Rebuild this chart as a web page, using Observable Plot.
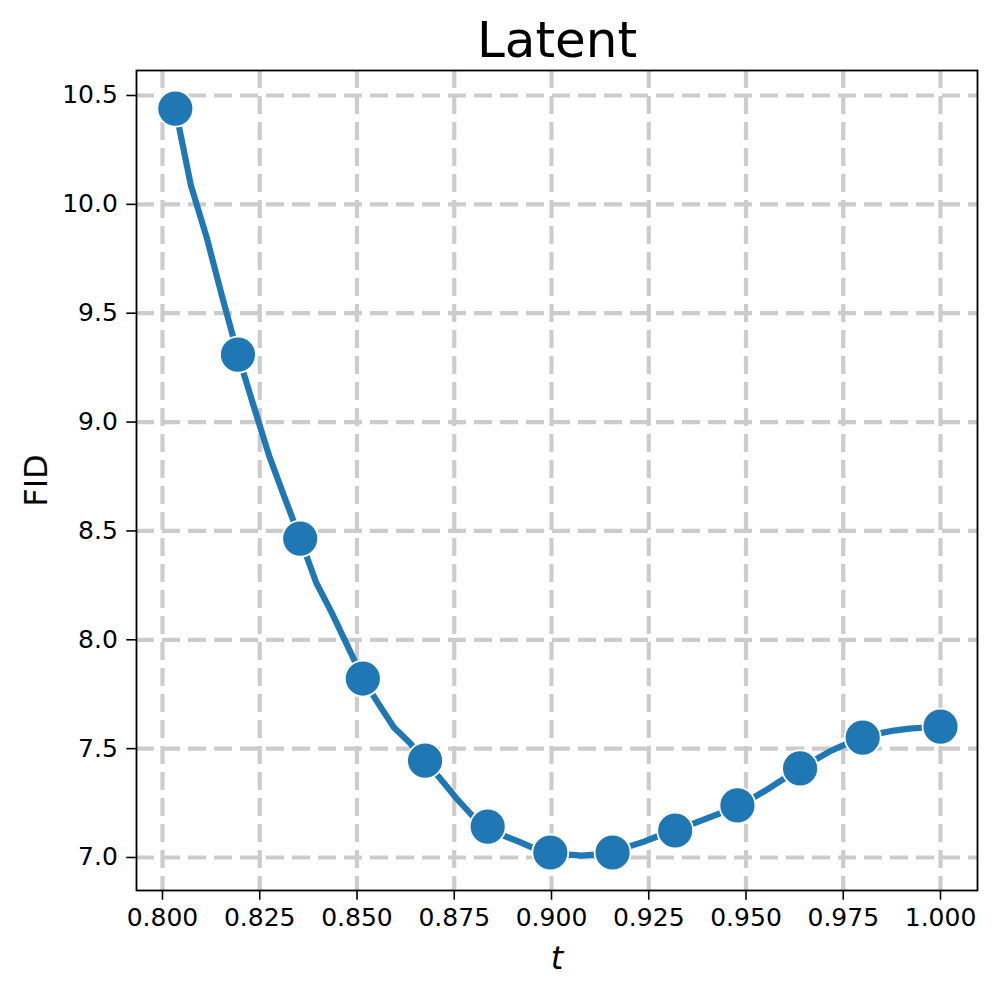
<!DOCTYPE html>
<html>
<head>
<meta charset="utf-8">
<script src="https://cdn.jsdelivr.net/npm/d3@7"></script>
<script src="https://cdn.jsdelivr.net/npm/@observablehq/plot@0.6"></script>
<style>
  html, body { margin: 0; padding: 0; background: #fff; }
  #chart { width: 997px; height: 996px; }
</style>
</head>
<body>
<div id="chart"></div>
<script>
// ---- data ----
const titleText = "Latent";
const xLabelText = "t";
const yLabelText = "FID";

// dense line samples
const lineT = [
  0.8033, 0.8073, 0.8113, 0.8154, 0.8194,
  0.8234, 0.8274, 0.8314, 0.8354,
  0.8395, 0.8435, 0.8475, 0.8515,
  0.8555, 0.8595, 0.8635, 0.8675,
  0.8716, 0.8756, 0.8796, 0.8836,
  0.8876, 0.8916, 0.8957, 0.8997,
  0.9037, 0.9077, 0.9117, 0.9157,
  0.9198, 0.9238, 0.9278, 0.9318,
  0.9358, 0.9398, 0.9438, 0.9478,
  0.9519, 0.9559, 0.9599, 0.9639,
  0.9679, 0.9719, 0.9760, 0.9800,
  0.9840, 0.9880, 0.9920, 0.9960, 1.0000
];
const lineFID = [
  10.440, 10.087, 9.852, 9.572, 9.310,
  9.076, 8.846, 8.653, 8.465,
  8.263, 8.125, 7.974, 7.822,
  7.707, 7.597, 7.528, 7.445,
  7.358, 7.271, 7.193, 7.142,
  7.101, 7.073, 7.041, 7.023,
  7.014, 7.009, 7.014, 7.023,
  7.050, 7.073, 7.101, 7.124,
  7.151, 7.179, 7.206, 7.239,
  7.275, 7.317, 7.363, 7.409,
  7.450, 7.491, 7.523, 7.551,
  7.569, 7.583, 7.592, 7.597, 7.601
];

// marker points
const markerT = [0.8033, 0.8194, 0.8354, 0.8515, 0.8675, 0.8836, 0.8997,
                 0.9157, 0.9318, 0.9478, 0.9639, 0.9800, 1.0000];
const markerFID = [10.440, 9.310, 8.465, 7.822, 7.445, 7.142, 7.023,
                   7.023, 7.124, 7.239, 7.409, 7.551, 7.601];

const xTicks = [0.800, 0.825, 0.850, 0.875, 0.900, 0.925, 0.950, 0.975, 1.000];
const yTicks = [7.0, 7.5, 8.0, 8.5, 9.0, 9.5, 10.0, 10.5];
const xDomain = [0.79332, 1.00951];
const yDomain = [6.8484, 10.6148];

// ---- build tables ----
const lineData = lineT.map((t, i) => ({t, fid: lineFID[i]}));
const markerData = markerT.map((t, i) => ({t, fid: markerFID[i]}));

const blue = "#1f77b4";
const gridStyle = {stroke: "#cccccc", strokeOpacity: 1, strokeWidth: 4.2, strokeDasharray: "18,8"};

const chart = Plot.plot({
  width: 997,
  height: 996,
  marginLeft: 136,
  marginRight: 20,
  marginTop: 70,
  marginBottom: 106,
  style: {fontFamily: "'DejaVu Sans', sans-serif", background: "#fff", color: "#000"},
  x: {domain: xDomain},
  y: {domain: yDomain},
  marks: [
    Plot.gridX(xTicks, gridStyle),
    Plot.gridY(yTicks, gridStyle),
    Plot.line(lineData, {x: "t", y: "fid", stroke: blue, strokeWidth: 6.2, strokeLinejoin: "round", strokeLinecap: "butt"}),
    Plot.dot(markerData, {x: "t", y: "fid", r: 18, fill: blue, stroke: "white", strokeWidth: 1.8}),
    Plot.frame({stroke: "#000", strokeWidth: 1.8}),
    Plot.axisX({ticks: xTicks, tickFormat: d3.format(".3f"), tickSize: 9.7, tickPadding: 8, fontSize: 25, label: null, strokeWidth: 1.6}),
    Plot.axisY({ticks: yTicks, tickFormat: d3.format(".1f"), tickSize: 9.7, tickPadding: 9, fontSize: 25, label: null, strokeWidth: 1.6}),
    Plot.text([titleText], {frameAnchor: "top", dy: -30, fontSize: 50, lineAnchor: "middle", fill: "#000"}),
    Plot.text([xLabelText], {frameAnchor: "bottom", dy: 68, fontSize: 32, fontStyle: "italic", lineAnchor: "middle", fill: "#000"}),
    Plot.text([yLabelText], {frameAnchor: "left", dx: -100, rotate: -90, fontSize: 32, lineAnchor: "middle", textAnchor: "middle", fill: "#000"})
  ]
});
document.getElementById("chart").appendChild(chart);
</script>
</body>
</html>
